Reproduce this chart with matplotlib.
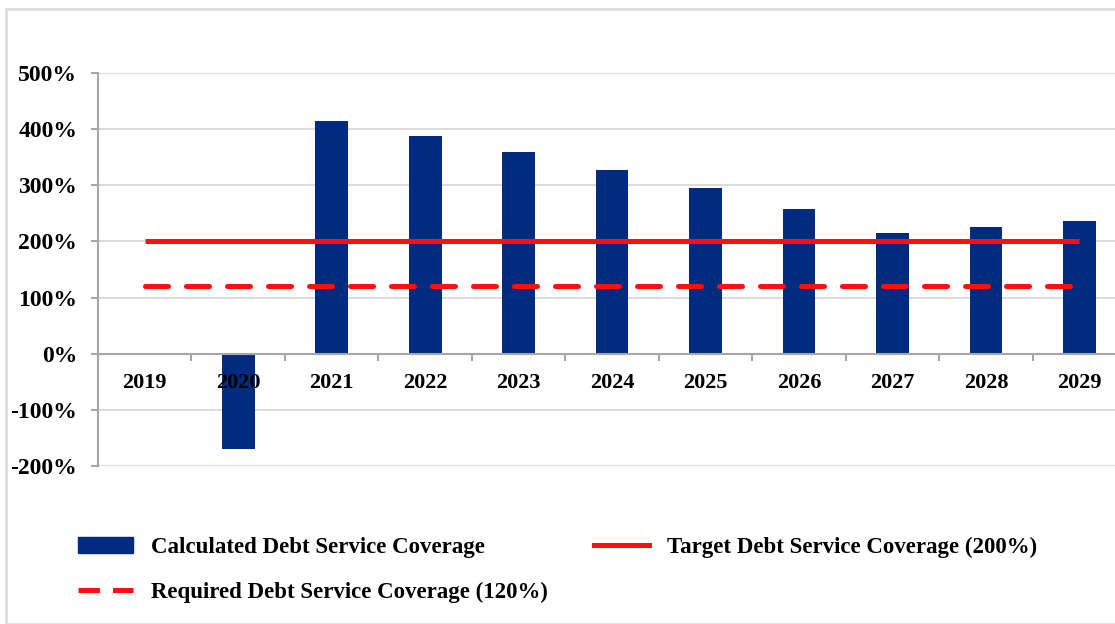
import matplotlib.pyplot as plt
from matplotlib.lines import Line2D
from matplotlib.patches import Patch, Rectangle
from matplotlib.ticker import FuncFormatter, MultipleLocator

# data (percent)
years = ['2019', '2020', '2021', '2022', '2023', '2024', '2025', '2026', '2027', '2028', '2029']
coverage = [0, -169, 415, 388, 359, 327, 295, 258, 215, 226, 237]
target = [200] * len(years)
required = [120] * len(years)

navy = '#002b7f'
red = '#ff1010'
grid_grey = '#d4d4d4'
axis_grey = '#a6a6a6'

plt.rcParams['font.family'] = ['Liberation Serif', 'DejaVu Serif']
plt.rcParams['font.weight'] = 'bold'

fig = plt.figure(figsize=(11.15, 6.24), dpi=100)
ax = fig.add_axes([0.0879, 0.2532, 0.9121, 0.6298])

# light grey frame round the chart
fig.patches.append(Rectangle((0.005, 0.0), 1.2, 0.986, transform=fig.transFigure,
                             fill=False, edgecolor='#dcdcdc', linewidth=2))

x = list(range(len(years)))
ax.bar(x, coverage, width=0.35, color=navy, zorder=3)
ax.plot(x, target, color=red, linewidth=3.6, zorder=4, solid_capstyle='butt')
ax.plot(x, required, color=red, linewidth=3.6, zorder=4,
        dashes=(4.6, 3.6), dash_capstyle='round')

ax.set_xlim(-0.5, 10.38)
ax.set_ylim(-200, 500)
ax.yaxis.set_major_locator(MultipleLocator(100))
ax.yaxis.set_major_formatter(FuncFormatter(lambda v, p: f'{int(v)}%'))
ax.grid(axis='y', color=grid_grey, linewidth=1.2)
ax.yaxis.set_zorder(1)
ax.xaxis.set_zorder(6)

for s in ['top', 'right']:
    ax.spines[s].set_visible(False)
ax.spines['left'].set_color(axis_grey)
ax.spines['left'].set_linewidth(1.5)
ax.spines['bottom'].set_position(('data', 0))
ax.spines['bottom'].set_color(axis_grey)
ax.spines['bottom'].set_linewidth(1.5)
ax.spines['bottom'].set_zorder(5)

ax.set_xticks(x)
ax.set_xticklabels(years)
ax.set_xticks([i + 0.5 for i in x[:-1]], minor=True)
ax.tick_params(axis='x', which='major', length=0, pad=14, labelsize=16)
ax.tick_params(axis='x', which='minor', length=5, width=1.5, color=axis_grey, direction='out')
ax.tick_params(axis='y', length=5, width=1.5, color=axis_grey, pad=10, labelsize=17)

handles = [Patch(facecolor=navy, edgecolor=navy),
           Line2D([], [], color=red, linewidth=3.6),
           Line2D([], [], color=red, linewidth=3.6, dashes=(4.3, 2.6))]
labels = ['Calculated Debt Service Coverage',
          'Required Debt Service Coverage (120%)',
          'Target Debt Service Coverage (200%)']
fig.legend([handles[0], handles[2], handles[1]], labels, loc='upper left',
           bbox_to_anchor=(0.070, 0.139), ncol=2, frameon=False,
           prop={'size': 16.5, 'weight': 'bold'}, handlelength=2.4,
           handletextpad=0.8, labelspacing=1.0, columnspacing=2.0,
           borderaxespad=0, borderpad=0)

fig.savefig('out.png', dpi=100)
